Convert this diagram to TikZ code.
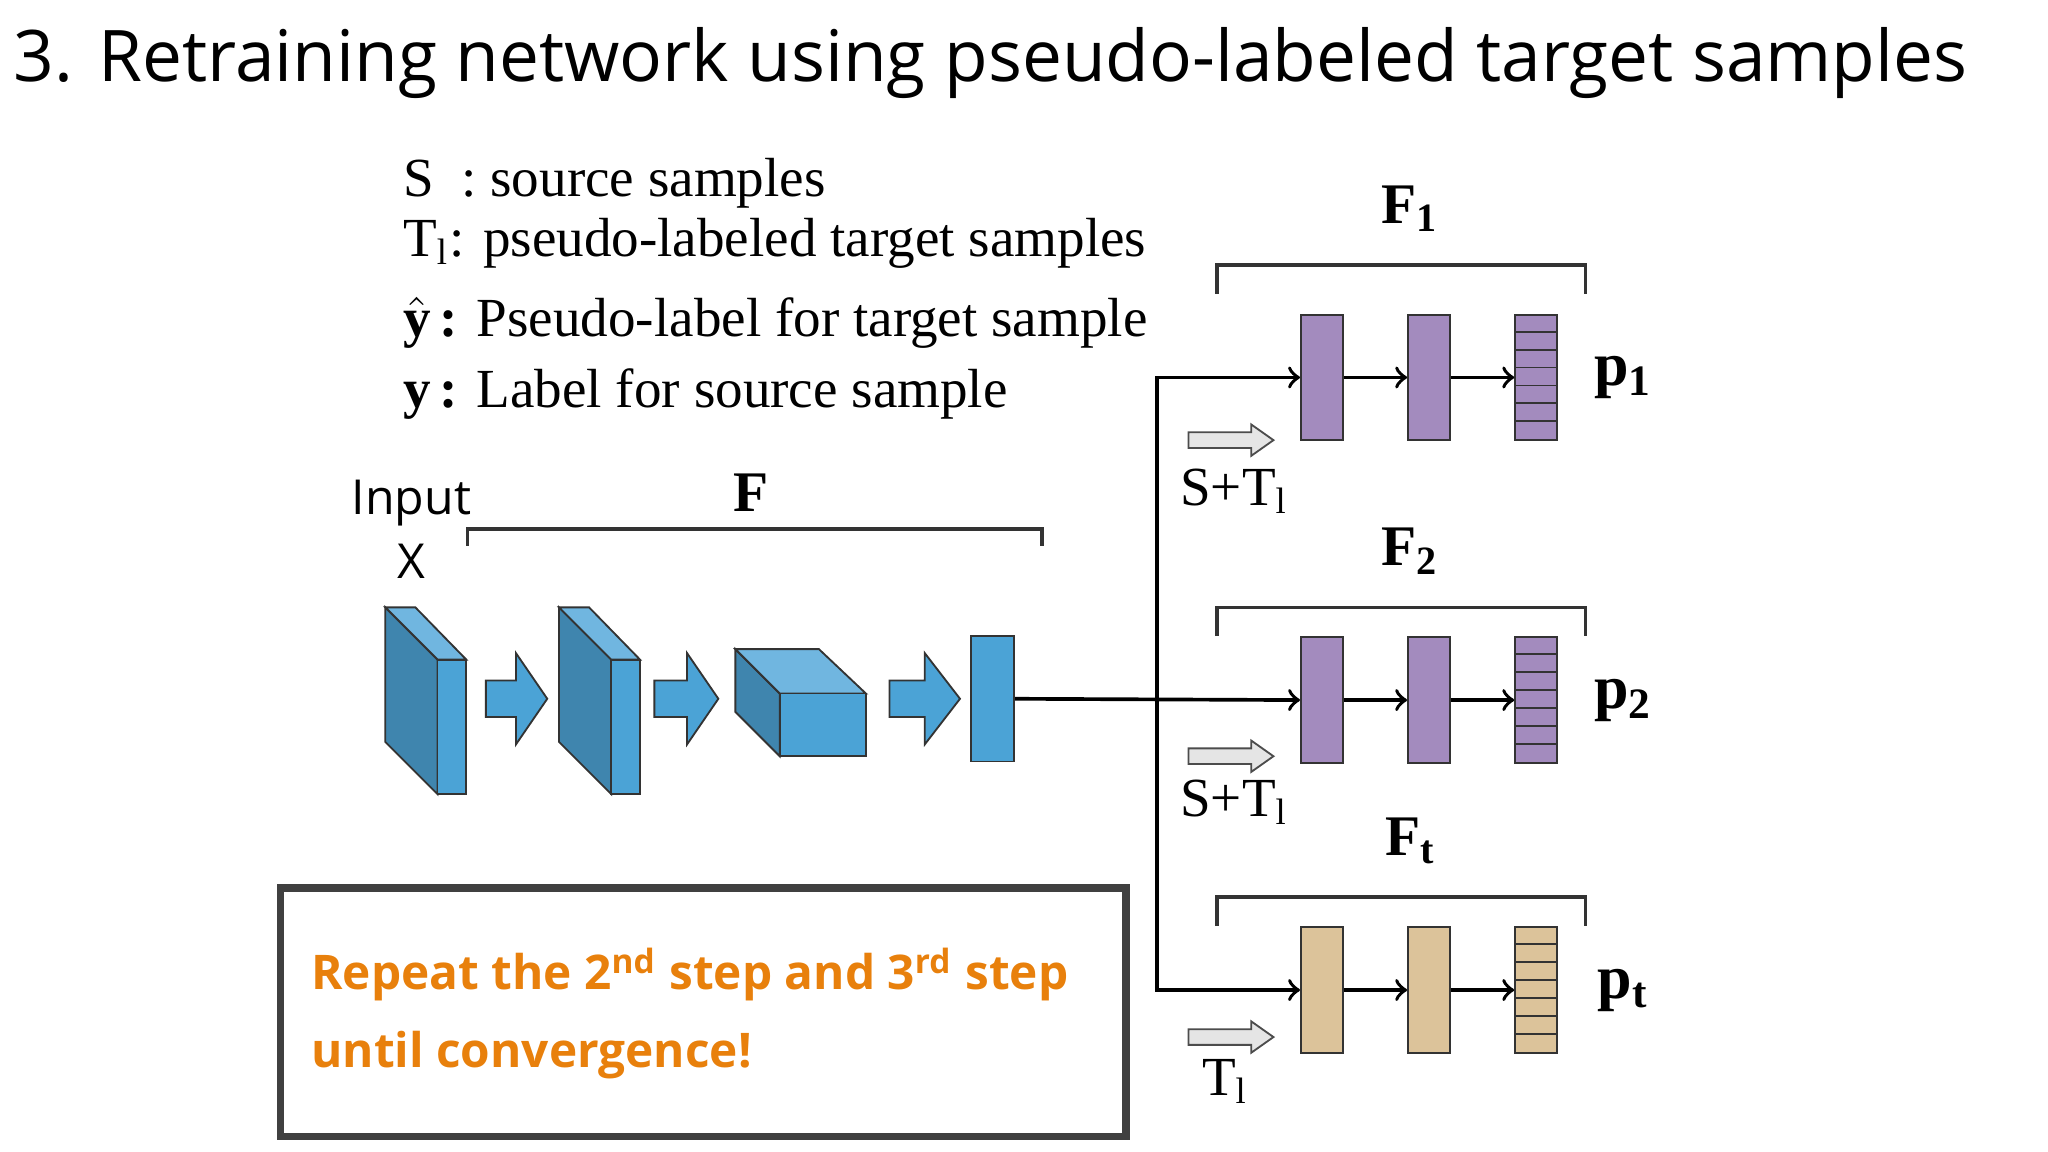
\documentclass[tikz,border=0pt]{standalone}
\usepackage{fontspec}
\setmainfont{Liberation Serif}
\newfontfamily\sans{Open Sans}
\usetikzlibrary{arrows}
\definecolor{cnnblue}{HTML}{4BA3D6}
\definecolor{cnndark}{HTML}{3F85AE}
\definecolor{cnnlight}{HTML}{70B6E0}
\definecolor{headpurple}{HTML}{A38BBE}
\definecolor{headtan}{HTML}{DCC39A}
\definecolor{repeatorange}{HTML}{E8800C}
\tikzstyle{layer} = [rectangle, draw = black!80, minimum width = 0.32cm, minimum height = 0.96cm, inner sep = 0pt]
\tikzstyle{flow} = [thick, ->, >=to]
\tikzstyle{legend} = [anchor = west, inner sep = 0pt, font = \fontsize{12}{14}\selectfont]
\tikzstyle{bracket} = [thick, black!80]
\tikzstyle{headlbl} = [font = \fontsize{12.5}{14}\selectfont\bfseries]

\begin{document}
\begin{tikzpicture}[x = 0.01cm, y = -0.01cm]
    \useasboundingbox (0,0) rectangle (1568,882);
    \node(title)[anchor = west, inner sep = 0pt, font = \sans\fontsize{15.5}{18}\selectfont] at (10,48){3. Retraining network using pseudo-labeled target samples};

    % legend
    \node(lg1)[legend] at (308,140){S\enspace: source samples};
    \node(lg2)[legend] at (308,186){T$_{\mathrm{l}}$: pseudo-labeled target samples};
    \node(lg3)[legend] at (308,247){$\hat{\mathbf{y}}$\,\textbf{:} Pseudo-label for target sample};
    \node(lg4)[legend] at (308,302){$\mathbf{y}$\,\textbf{:} Label for source sample};

    % feature extractor
    \node(input)[align = center, font = \sans\fontsize{10.5}{14}\selectfont] at (315,405){Input\\X};
    \draw[bracket] (358,418) -- (358,405) -- (798,405) -- (798,418);
    \node(lblF)[headlbl] at (575,377){F};
    \foreach \x in {295,428}{
        \draw[draw = black!80, fill = cnndark] (\x,465) -- (\x+40,505) -- (\x+40,608) -- (\x,568) -- cycle;
        \draw[draw = black!80, fill = cnnlight] (\x,465) -- (\x+23,465) -- (\x+62,505) -- (\x+40,505) -- cycle;
        \draw[draw = black!80, fill = cnnblue] (\x+40,505) rectangle (\x+62,608);
    }
    \draw[draw = black!80, fill = cnndark] (563,497) -- (597,531) -- (597,579) -- (563,545) -- cycle;
    \draw[draw = black!80, fill = cnnlight] (563,497) -- (627,497) -- (663,531) -- (597,531) -- cycle;
    \draw[draw = black!80, fill = cnnblue] (597,531) rectangle (663,579);
    \foreach \x/\h/\e in {372/395/419, 501/526/550, 681/708/735}
        \draw[draw = black!80, fill = cnnblue] (\x,521) -- (\h,521) -- (\h,500) -- (\e,535) -- (\h,570) -- (\h,549) -- (\x,549) -- cycle;
    \node(feat)[layer, fill = cnnblue, minimum width = 0.33cm] at (760,535){};

    % classifier heads
    \foreach \name/\y/\col/\lbl/\p/\by in {one/289/headpurple/F$_\mathbf{1}$/p$_\mathbf{1}$/203, two/536/headpurple/F$_\mathbf{2}$/p$_\mathbf{2}$/465, t/758/headtan/F$_\mathbf{t}$/p$_\mathbf{t}$/687}{
        \node(\name a)[layer, fill = \col] at (1012,\y){};
        \node(\name b)[layer, fill = \col] at (1094,\y){};
        \node(\name c)[layer, fill = \col] at (1176,\y){};
        \foreach \k in {1,...,6}
            \draw[black!80] ([yshift = -\k*0.137cm]\name c.north west) -- ([yshift = -\k*0.137cm]\name c.north east);
        \draw[flow] (\name a) -- (\name b);
        \draw[flow] (\name b) -- (\name c);
        \draw[bracket] (932,\by+22) -- (932,\by) -- (1214,\by) -- (1214,\by+22);
        \node(lbl\name)[headlbl] at (1080,\by-43){\lbl};
        \node(p\name)[font = \fontsize{13.5}{16}\selectfont\bfseries] at (1243,\y){\p};
    }
    \coordinate(split) at (886,536);
    \draw[flow] (feat.east) -- (twoa.west);
    \draw[flow] (split) |- (onea.west);
    \draw[flow] (split) |- (ta.west);

    \foreach \y in {337,579,794}
        \draw[draw = black!70, fill = black!10] (910,\y-6) -- (958,\y-6) -- (958,\y-12) -- (975,\y) -- (958,\y+12) -- (958,\y+6) -- (910,\y+6) -- cycle;
    \node(dl1)[font = \fontsize{12}{14}\selectfont] at (945,376){S+T$_{\mathrm{l}}$};
    \node(dl2)[font = \fontsize{12}{14}\selectfont] at (945,614){S+T$_{\mathrm{l}}$};
    \node(dl3)[font = \fontsize{12}{14}\selectfont] at (938,828){T$_{\mathrm{l}}$};

    % repeat box
    \draw[line width = 1.6pt, black!75] (215,680) rectangle (862,870);
    \node(repeat)[anchor = west, align = left, text = repeatorange, font = \sans\bfseries\fontsize{10.4}{17}\selectfont] at (226,776){Repeat the 2\textsuperscript{nd} step and 3\textsuperscript{rd} step\\until convergence!};
\end{tikzpicture}
\end{document}
